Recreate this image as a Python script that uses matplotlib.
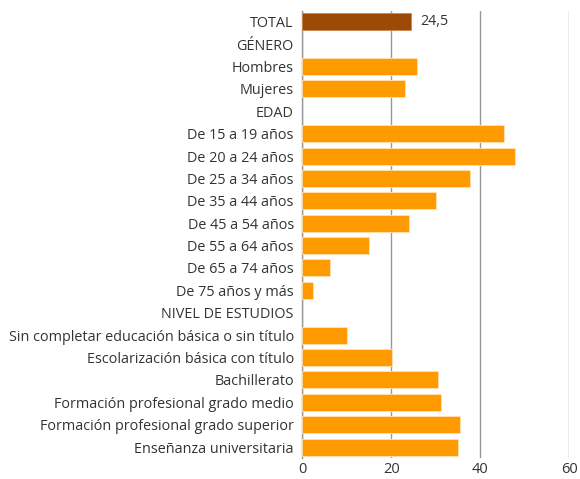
import matplotlib
matplotlib.use("Agg")
import matplotlib.pyplot as plt
import numpy as np

categories = ["TOTAL", "GÉNERO", "Hombres", "Mujeres", "EDAD",
              "De 15 a 19 años", "De 20 a 24 años", "De 25 a 34 años",
              "De 35 a 44 años", "De 45 a 54 años", "De 55 a 64 años",
              "De 65 a 74 años", "De 75 años y más", "NIVEL DE ESTUDIOS",
              "Sin completar educación básica o sin título",
              "Escolarización básica con título", "Bachillerato",
              "Formación profesional grado medio",
              "Formación profesional grado superior",
              "Enseñanza universitaria"]
values = [24.5, None, 25.9, 23.2, None,
          45.4, 47.9, 37.8, 30.0, 23.9, 15.1, 6.3, 2.5, None,
          10.1, 20.2, 30.6, 31.2, 35.5, 35.1]
xticks = [0, 20, 40, 60]

plt.rcParams['font.family'] = ['Open Sans', 'DejaVu Sans']
fig = plt.figure(figsize=(5.8, 4.79), dpi=100)
ax = fig.add_axes([0.521, 0.0434, 0.4605, 0.9346])

pos = np.arange(len(categories))
for i, (c, v) in enumerate(zip(categories, values)):
    if v is None:
        continue
    color = "#9C4A06" if c == "TOTAL" else "#FF9A00"
    ax.barh(i, v, height=0.76, color=color, edgecolor="#FFE2B0" if c != "TOTAL" else "#C98A50",
            linewidth=0.6, zorder=3)
    if c == "TOTAL":
        ax.text(v + 2.1, i, f"{v:.1f}".replace(".", ","), va="center", ha="left",
                fontsize=10.3, color="#333333")

ax.set_ylim(len(categories) - 0.5, -0.5)
ax.set_xlim(0, 60)
ax.set_yticks(pos)
ax.set_yticklabels(categories, fontsize=10.4, color="#333333")
ax.set_xticks(xticks)
ax.set_xticklabels([str(t) for t in xticks], fontsize=10.5, color="#333333")
ax.tick_params(axis="y", length=0, pad=6)
ax.tick_params(axis="x", length=0, pad=3)
ax.grid(axis="x", color="#999999", linewidth=1, zorder=0)
for s in ["top", "right", "bottom"]:
    ax.spines[s].set_visible(False)
ax.spines["left"].set_color("#999999")
ax.spines["left"].set_linewidth(1)

fig.savefig("out.png", dpi=100)
